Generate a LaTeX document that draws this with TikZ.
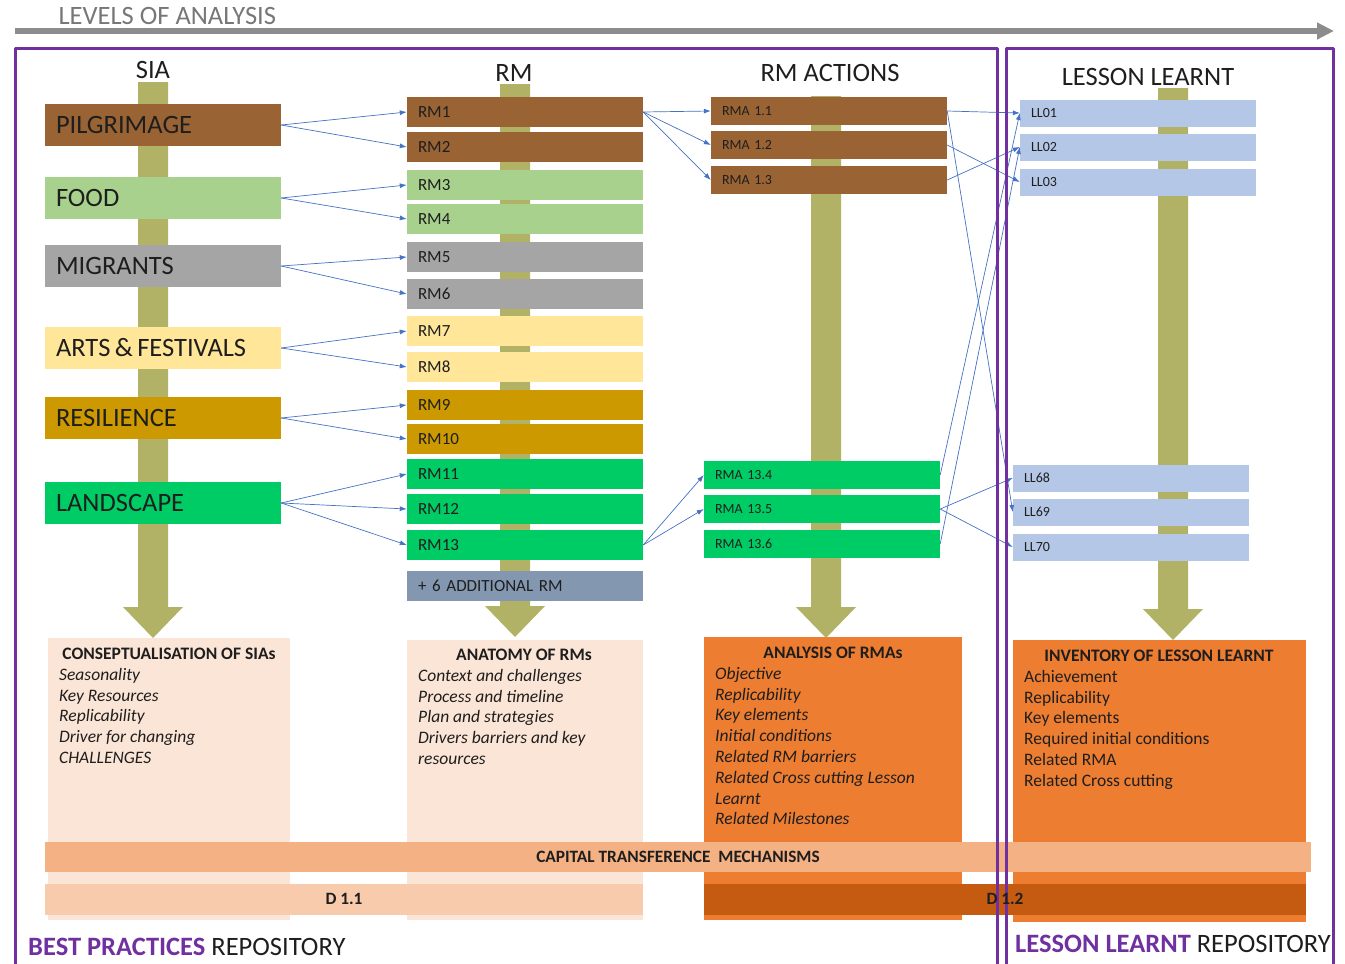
\documentclass[tikz,border=0pt]{standalone}
\usepackage{fontspec}
\setmainfont{Carlito}
\usetikzlibrary{arrows.meta,positioning}
\definecolor{olivebar}{HTML}{B2B266}
\definecolor{pilgrim}{HTML}{9A6334}
\definecolor{foodgreen}{HTML}{A9D18E}
\definecolor{migrgray}{HTML}{A5A5A5}
\definecolor{artsyellow}{HTML}{FFE699}
\definecolor{resgold}{HTML}{CC9900}
\definecolor{landgreen}{HTML}{00CC66}
\definecolor{addblue}{HTML}{8497B0}
\definecolor{llblue}{HTML}{B4C7E7}
\definecolor{peach}{HTML}{FBE5D6}
\definecolor{rmaorange}{HTML}{ED7D31}
\definecolor{capital}{HTML}{F4B183}
\definecolor{dlight}{HTML}{F8CBAD}
\definecolor{ddark}{HTML}{C55A11}
\definecolor{linkblue}{HTML}{4472C4}
\definecolor{framepurple}{HTML}{7030A0}
\definecolor{levelgray}{HTML}{8C8C8C}
\definecolor{inkgray}{HTML}{1E1E1E}
\tikzset{
  box/.style={inner xsep=11, inner ysep=0, text width=214, align=left, text=inkgray},
  siabox/.style={box, fill=#1, minimum height=42, font=\fontsize{26.5}{26.5}\selectfont},
  rmbox/.style={box, fill=#1, minimum height=30, font=\fontsize{17}{17}\selectfont},
  rmabox/.style={box, fill=#1, minimum height=28, font=\fontsize{14}{14}\selectfont},
  llbox/.style={box, fill=llblue, minimum height=27, font=\fontsize{14}{14}\selectfont},
  header/.style={text=inkgray, font=\fontsize{26.5}{26.5}\selectfont},
  panel/.style={fill=#1, inner sep=0},
  bartext/.style={text=inkgray, inner sep=0, font=\fontsize{17.3}{17.3}\selectfont\bfseries},
  boxtitle/.style={text=inkgray, inner sep=0, font=\fontsize{17.5}{17.5}\selectfont\bfseries},
  boxlist/.style={text=inkgray, inner sep=0, align=left, anchor=north west, font=\fontsize{17.5}{20.8}\selectfont\itshape},
  link/.style={draw=linkblue, line width=0.7, ->},
  frame/.style={draw=framepurple, line width=3},
}
\begin{document}
\begin{tikzpicture}[x=1pt, y=-1pt, >={Latex[length=7pt,width=5pt]}, line join=round]
\useasboundingbox (0,0) rectangle (1345,964);
% levels of analysis
\node[anchor=west, text=levelgray!85!black, font=\fontsize{26.5}{26.5}\selectfont] (levels) at (55,16) {LEVELS OF ANALYSIS};
\coordinate (levstart) at (15,31);
\coordinate (levend) at (1334,31);
\draw[levelgray, line width=6, -{Triangle[length=17pt,width=16pt]}] (levstart) -- (levend);
% column headers
\node[header] (siahead) at (153,70) {SIA};
\node[header] (rmhead) at (514,73) {RM};
\node[header] (rmahead) at (830,73) {RM ACTIONS};
\node[header] (llhead) at (1148,77) {LESSON LEARNT};
% olive flow arrows
\foreach \cx/\ya/\yb in {153/82/607, 515/84/606, 826/96/607, 1173/88/609}
  \fill[olivebar] (\cx-15,\ya) -- (\cx+15,\ya) -- (\cx+15,\yb) -- (\cx+30,\yb)
    -- (\cx,\yb+31) -- (\cx-30,\yb) -- (\cx-15,\yb) -- cycle;
% SIA
\node[siabox=pilgrim] (pilgrimage) at (163,125) {PILGRIMAGE};
\node[siabox=foodgreen] (food) at (163,198) {FOOD};
\node[siabox=migrgray] (migrants) at (163,266) {MIGRANTS};
\node[siabox=artsyellow] (arts) at (163,348) {ARTS\,\&\,FESTIVALS};
\node[siabox=resgold] (resilience) at (163,418) {RESILIENCE};
\node[siabox=landgreen] (landscape) at (163,503) {LANDSCAPE};
% RM
\foreach \n/\y/\c in {1/112/pilgrim, 2/147/pilgrim, 3/185/foodgreen, 4/219/foodgreen,
    5/257/migrgray, 6/294/migrgray, 7/331/artsyellow, 8/367/artsyellow,
    9/405/resgold, 10/439/resgold, 11/474/landgreen, 12/509/landgreen, 13/545/landgreen}
  \node[rmbox=\c] (rm\n) at (525,\y) {RM\n};
\node[rmbox=addblue] (rmadd) at (525,586) {+ 6 ADDITIONAL RM};
% RM actions
\foreach \n/\x/\y/\c/\t in {11/829/111/pilgrim/1.1, 12/829/145/pilgrim/1.2, 13/829/180/pilgrim/1.3,
    134/822/475/landgreen/13.4, 135/822/509/landgreen/13.5, 136/822/544/landgreen/13.6}
  \node[rmabox=\c] (rma\n) at (\x,\y) {RMA \t};
% lessons learnt
\foreach \n/\x/\y in {01/1138/113, 02/1138/147, 03/1138/182, 68/1131/478, 69/1131/512, 70/1131/547}
  \node[llbox] (ll\n) at (\x,\y) {LL\n};
% links
\foreach \s/\r in {pilgrimage/rm1, pilgrimage/rm2, food/rm3, food/rm4, migrants/rm5, migrants/rm6,
    arts/rm7, arts/rm8, resilience/rm9, resilience/rm10, landscape/rm11, landscape/rm12, landscape/rm13,
    rm1/rma11, rm1/rma12, rm1/rma13, rm13/rma134, rm13/rma135,
    rma11/ll01, rma11/ll69, rma12/ll03, rma13/ll02, rma134/ll01, rma136/ll02, rma135/ll68, rma135/ll70}
  \draw[link] (\s.east) -- (\r.west);
% analysis panels
\node[panel=peach, minimum width=242, minimum height=282] (concept) at (169,779) {};
\node[panel=peach, minimum width=236, minimum height=280] (anatomy) at (525,780) {};
\node[panel=rmaorange, minimum width=258, minimum height=283] (analysis) at (833,778) {};
\node[panel=rmaorange, minimum width=293, minimum height=282] (inventory) at (1159,781) {};
\node[panel=capital, minimum width=1266, minimum height=30] (mechanisms) at (678,857) {};
\node[panel=dlight, minimum width=598, minimum height=31] (d11) at (344,899) {};
\node[panel=ddark, minimum width=602, minimum height=31] (d12) at (1005,899) {};
% repositories
\draw[frame] (15,964) |- (997,48) -- (997,964);
\draw[frame] (1006,964) |- (1333,48) -- (1333,964);
% panel texts
\node[bartext] at (mechanisms) {CAPITAL TRANSFERENCE\ \ MECHANISMS};
\node[bartext] at (d11) {D 1.1};
\node[bartext] at (d12) {D 1.2};
\node[boxtitle] (concepttitle) at (169,654) {CONSEPTUALISATION OF SIAs};
\node[boxlist] (conceptlist) at (59,668) {Seasonality\\Key Resources\\Replicability\\Driver for changing\\CHALLENGES};
\node[boxtitle] (anatomytitle) at (524,655) {ANATOMY OF RMs};
\node[boxlist] (anatomylist) at (418,669) {Context and challenges\\Process and timeline\\Plan and strategies\\Drivers barriers and key\\resources};
\node[boxtitle] (analysistitle) at (833,653) {ANALYSIS OF RMAs};
\node[boxlist] (analysislist) at (715,667) {Objective\\Replicability\\Key elements\\Initial conditions\\Related RM barriers\\Related Cross cutting Lesson\\Learnt\\Related Milestones};
\node[boxtitle] (inventorytitle) at (1159,656) {INVENTORY OF LESSON LEARNT};
\node[boxlist, font=\fontsize{17.5}{20.8}\selectfont] (inventorylist) at (1024,670) {Achievement\\Replicability\\Key elements\\Required initial conditions\\Related RMA\\Related Cross cutting};
\node[anchor=base west, inner sep=0, text=inkgray, font=\fontsize{26.5}{26.5}\selectfont] (bestrepo) at (28,955) {\textcolor{framepurple}{\bfseries BEST PRACTICES} REPOSITORY};
\node[anchor=base west, inner sep=0, text=inkgray, font=\fontsize{26.5}{26.5}\selectfont] (llrepo) at (1015,952) {\textcolor{framepurple}{\bfseries LESSON LEARNT} REPOSITORY};
\end{tikzpicture}
\end{document}
